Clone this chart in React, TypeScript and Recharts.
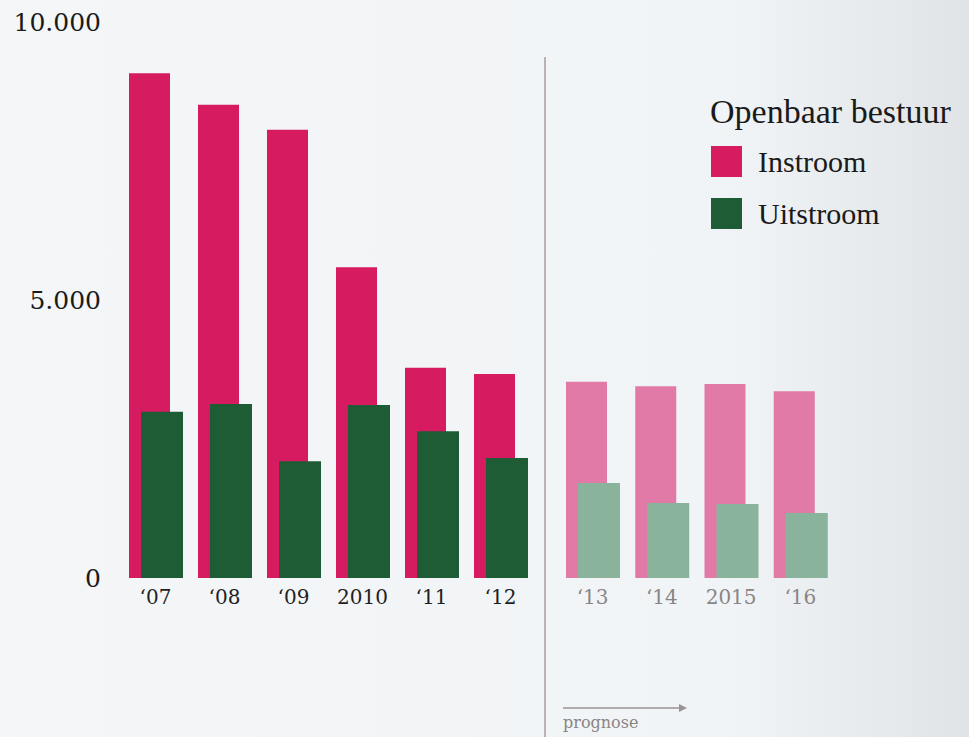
import React from "react";
import { BarChart, Bar, XAxis, YAxis } from "recharts";

// Data
const pastYears = ["‘07", "‘08", "‘09", "2010", "‘11", "‘12"];
const pastInstroom = [9080, 8510, 8060, 5590, 3780, 3670];
const pastUitstroom = [2990, 3130, 2100, 3110, 2640, 2160];

const forecastYears = ["‘13", "‘14", "2015", "‘16"];
const forecastInstroom = [3530, 3450, 3490, 3360];
const forecastUitstroom = [1710, 1350, 1330, 1170];

const yTicks = [0, 5000, 10000];
const legendTitle = "Openbaar bestuur";
const seriesNames = ["Instroom", "Uitstroom"];
const prognoseLabel = "prognose";

const PINK = "#d61b60";
const GREEN = "#1e5c35";
const PINK_LIGHT = "#e27aa7";
const GREEN_LIGHT = "#8ab39b";

const pastData = pastYears.map((year, i) => ({
  year,
  instroom: pastInstroom[i],
  uitstroom: pastUitstroom[i],
}));
const forecastData = forecastYears.map((year, i) => ({
  year,
  instroom: forecastInstroom[i],
  uitstroom: forecastUitstroom[i],
}));

const fmt = (v: number) => (v === 0 ? "0" : v.toLocaleString("de-DE"));

const LegendBox = () => (
  <div style={{ fontFamily: "'Liberation Serif', serif", color: "#1a1a1a" }}>
    <div style={{ fontSize: 34, lineHeight: "40px", whiteSpace: "nowrap" }}>{legendTitle}</div>
    {seriesNames.map((n, i) => (
      <div key={n} style={{ display: "flex", alignItems: "center", marginTop: i === 0 ? 14 : 21 }}>
        <div style={{ width: 31, height: 31, background: i === 0 ? PINK : GREEN, marginLeft: 1 }} />
        <span style={{ fontSize: 30, marginLeft: 16, lineHeight: "31px" }}>{n}</span>
      </div>
    ))}
  </div>
);

export default function App() {
  const H = 618;
  return (
    <div
      style={{
        position: "absolute",
        left: 0,
        top: 0,
        width: 969,
        height: 737,
        overflow: "hidden",
        background: "linear-gradient(90deg, #f4f6f8 0%, #f1f4f6 75%, #e1e4e6 100%)",
      }}
    >
      <div style={{ position: "absolute", left: 0, top: 0 }}>
        <BarChart
          width={535}
          height={H}
          data={pastData}
          margin={{ top: 22, right: 0, bottom: 0, left: 0 }}
          barGap={-29}
          barCategoryGap={0}
        >
          <YAxis
            width={121}
            domain={[0, 10000]}
            ticks={yTicks}
            tickFormatter={fmt}
            axisLine={false}
            tickLine={false}
            tickSize={0}
            tickMargin={20}
            interval={0}
            tick={{ fill: "#1a1a1a", fontSize: 25, fontFamily: "'DejaVu Serif', serif" }}
          />
          <XAxis
            dataKey="year"
            height={40}
            axisLine={false}
            tickLine={false}
            tickSize={0}
            tickMargin={12}
            interval={0}
            tick={{ fill: "#1f1f1f", fontSize: 20, fontFamily: "'DejaVu Serif', serif" }}
          />
          <Bar dataKey="instroom" name={seriesNames[0]} fill={PINK} barSize={41} isAnimationActive={false} />
          <Bar dataKey="uitstroom" name={seriesNames[1]} fill={GREEN} barSize={42} isAnimationActive={false} />
        </BarChart>
      </div>

      <div
        style={{
          position: "absolute",
          left: 544,
          top: 57,
          width: 1.5,
          height: 680,
          background: "#b9b3b3",
        }}
      />

      <div style={{ position: "absolute", left: 545, top: 0 }}>
        <BarChart
          width={424}
          height={H}
          data={forecastData}
          margin={{ top: 22, right: 134, bottom: 0, left: 13 }}
          barGap={-29}
          barCategoryGap={0}
        >
          <YAxis hide domain={[0, 10000]} ticks={yTicks} />
          <XAxis
            dataKey="year"
            height={40}
            axisLine={false}
            tickLine={false}
            tickSize={0}
            tickMargin={12}
            interval={0}
            tick={{ fill: "#8a8585", fontSize: 20, fontFamily: "'DejaVu Serif', serif" }}
          />
          <Bar dataKey="instroom" name={seriesNames[0]} fill={PINK_LIGHT} barSize={41} isAnimationActive={false} />
          <Bar dataKey="uitstroom" name={seriesNames[1]} fill={GREEN_LIGHT} barSize={42} isAnimationActive={false} />
        </BarChart>
      </div>

      <div style={{ position: "absolute", left: 710, top: 92 }}>
        <LegendBox />
      </div>

      <svg style={{ position: "absolute", left: 555, top: 695 }} width={150} height={42}>
        <line x1={8} y1={13} x2={128} y2={13} stroke="#9a9393" strokeWidth={1.5} />
        <path d="M124,9 L132,13 L124,17 Z" fill="#9a9393" />
        <text x={8} y={33} fontSize={16} fill="#8a8484" fontFamily="'DejaVu Serif', serif">
          {prognoseLabel}
        </text>
      </svg>
    </div>
  );
}
